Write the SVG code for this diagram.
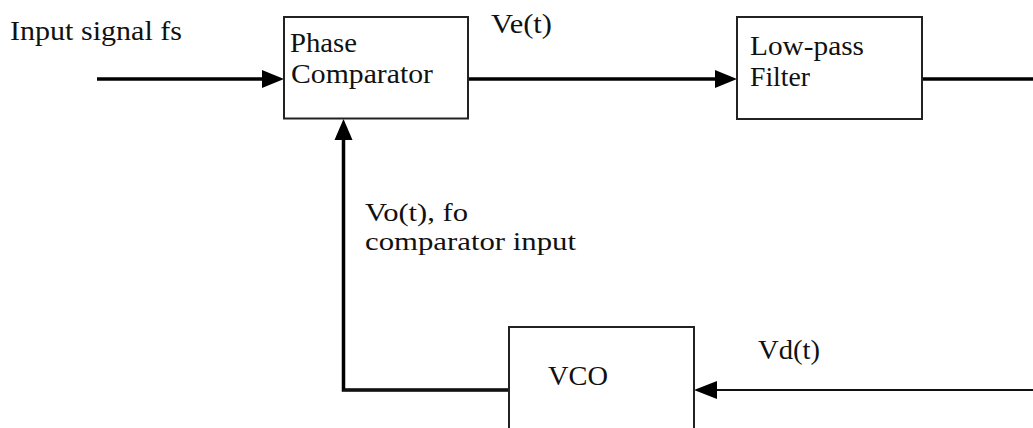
<svg xmlns="http://www.w3.org/2000/svg" width="1033" height="428" viewBox="0 0 1033 428">
<defs>
<style>
text{font-family:"Liberation Serif","Times New Roman",serif;font-size:28px;fill:#111;}
.small{font-size:26px;}
.box{fill:#fff;stroke:#222;stroke-width:2;}
.thick{stroke:#000;stroke-width:3.5;fill:none;}
.thin{stroke:#111;stroke-width:2;fill:none;}
.ah{fill:#000;}
</style>
</defs>
<rect width="1033" height="428" fill="#fff"/>
<g id="connectors">
<line class="thick" x1="97" y1="79" x2="264" y2="79"/>
<polygon class="ah" points="284,79 262,70 262,88"/>
<line class="thick" x1="468" y1="79" x2="717" y2="79"/>
<polygon class="ah" points="737,79 715,70 715,88"/>
<line class="thick" x1="922" y1="79" x2="1033" y2="79"/>
<polyline class="thick" points="509,390 343.5,390 343.5,138"/>
<line class="thin" x1="343" y1="390" x2="509" y2="390"/>
<polygon class="ah" points="343.5,119 334.5,140 352.5,140"/>
<line class="thin" x1="714" y1="390" x2="1033" y2="390"/>
<polygon class="ah" points="694,390 717,381 717,399"/>
</g>
<g id="input-label"><text x="10" y="40" textLength="172" lengthAdjust="spacingAndGlyphs">Input signal fs</text></g>
<g id="phase-comparator">
<rect class="box" x="284" y="17" width="184" height="101.5"/>
<text x="290" y="52" textLength="67" lengthAdjust="spacingAndGlyphs">Phase</text>
<text x="291" y="83" textLength="142" lengthAdjust="spacingAndGlyphs">Comparator</text>
</g>
<g id="ve-label"><text x="491" y="33" textLength="61" lengthAdjust="spacingAndGlyphs">Ve(t)</text></g>
<g id="low-pass-filter">
<rect class="box" x="737" y="17" width="185" height="102"/>
<text x="750" y="55" textLength="114" lengthAdjust="spacingAndGlyphs">Low-pass</text>
<text x="750" y="86" textLength="60" lengthAdjust="spacingAndGlyphs">Filter</text>
</g>
<g id="vo-label">
<text class="small" x="365" y="221" textLength="103" lengthAdjust="spacingAndGlyphs">Vo(t), fo</text>
<text class="small" x="365" y="250" textLength="211" lengthAdjust="spacingAndGlyphs">comparator input</text>
</g>
<g id="vco">
<rect class="box" x="509" y="327" width="185" height="110"/>
<text x="548" y="385" textLength="60" lengthAdjust="spacingAndGlyphs">VCO</text>
</g>
<g id="vd-label"><text x="758" y="359" textLength="62" lengthAdjust="spacingAndGlyphs">Vd(t)</text></g>
</svg>
